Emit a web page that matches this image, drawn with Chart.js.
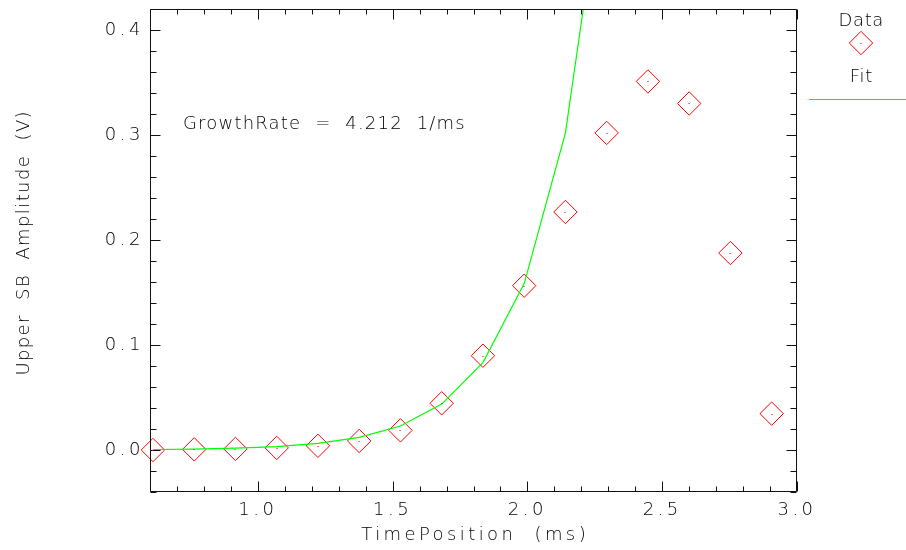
<!DOCTYPE html>
<html>
<head>
<meta charset="utf-8">
<script src="https://cdn.jsdelivr.net/npm/chart.js@4.4.1/dist/chart.umd.min.js"></script>
<style>
  html, body { margin: 0; padding: 0; background: #ffffff; }
  #c { display: block; }
</style>
</head>
<body>
<canvas id="c" width="906" height="550"></canvas>
<script>
// Measured upper-sideband amplitude versus time
const timeMs = [0.611, 0.764, 0.917, 1.070, 1.223, 1.376, 1.529, 1.682,
                1.835, 1.988, 2.141, 2.294, 2.447, 2.600, 2.753, 2.906];
const amplitudeV = [0.0000, 0.0006, 0.0010, 0.0020, 0.0040, 0.0086, 0.0187, 0.0445,
                    0.0898, 0.1565, 0.2267, 0.3020, 0.3510, 0.3300, 0.1876, 0.0346];

// Exponential fit evaluated at the sample times
const fitTimeMs = [0.611, 0.764, 0.917, 1.070, 1.223, 1.376, 1.529, 1.682,
                   1.835, 1.988, 2.141, 2.294];
const fitV = [0.0005, 0.0009, 0.0017, 0.0033, 0.0063, 0.0120, 0.0229, 0.0437,
              0.0832, 0.1585, 0.3020, 0.5750];

// Labelled axis ticks
const xTickValues = [1.0, 1.5, 2.0, 2.5, 3.0];
const yTickValues = [0.0, 0.1, 0.2, 0.3, 0.4];

const growthText = 'GrowthRate  =  4.212  1/ms';
const xTitle = 'TimePosition  (ms)';
const yTitle = 'Upper  SB  Amplitude  (V)';

const INK = '#000000';
const FRAME = '#111111';
const FONT = '"DejaVu Sans", sans-serif';
const WEIGHT = 200;

function toPoints(xs, ys) {
  return xs.map((x, i) => ({ x: x, y: ys[i] }));
}

function drawSpaced(ctx, text, x, y, spacing, align) {
  ctx.save();
  ctx.letterSpacing = spacing + 'px';
  ctx.font = WEIGHT + ' 18px ' + FONT;
  ctx.fillStyle = INK;
  ctx.textBaseline = 'middle';
  const w = ctx.measureText(text).width;
  let sx = x;
  if (align === 'center') sx = x - (w - spacing) / 2;
  ctx.textAlign = 'left';
  ctx.fillText(text, sx, y);
  ctx.restore();
}

// Frame with inward major/minor ticks on all four sides, titles, note and key
const framePlugin = {
  id: 'frame',
  beforeDraw(chart) {
    chart.ctx.letterSpacing = '3.5px';
  },
  afterDraw(chart) {
    const ctx = chart.ctx;
    const a = chart.chartArea;
    const xs = chart.scales.x, ys = chart.scales.y;
    ctx.save();
    ctx.letterSpacing = '0px';
    ctx.strokeStyle = FRAME;
    ctx.lineWidth = 1;
    const L = Math.round(a.left) + 0.5, R = Math.round(a.right) - 0.5;
    const T = Math.round(a.top) + 0.5, B = Math.round(a.bottom) - 0.5;
    ctx.beginPath();
    ctx.rect(L, T, R - L, B - T);
    ctx.stroke();

    ctx.beginPath();
    // x ticks every 0.1, labelled ones longer
    for (let k = Math.ceil(xs.min * 10 - 1e-6); k <= Math.floor(xs.max * 10 + 1e-6); k++) {
      const v = k / 10;
      const px = Math.round(xs.getPixelForValue(v)) + 0.5;
      const major = xTickValues.some(t => Math.abs(t - v) < 1e-6);
      const len = major ? 10 : 5;
      ctx.moveTo(px, B); ctx.lineTo(px, B - len);
      ctx.moveTo(px, T); ctx.lineTo(px, T + len);
    }
    // y ticks every 0.02
    for (let k = Math.ceil(ys.min * 50 - 1e-6); k <= Math.floor(ys.max * 50 + 1e-6); k++) {
      const v = k / 50;
      const py = Math.round(ys.getPixelForValue(v)) + 0.5;
      const major = yTickValues.some(t => Math.abs(t - v) < 1e-6);
      const len = major ? 10 : 6;
      ctx.moveTo(L, py); ctx.lineTo(L + len, py);
      ctx.moveTo(R, py); ctx.lineTo(R - len, py);
    }
    ctx.stroke();

    // centre marks of the data diamonds
    const meta = chart.getDatasetMeta(1);
    ctx.fillStyle = 'rgba(255,0,0,0.55)';
    meta.data.forEach(p => {
      ctx.fillRect(Math.round(p.x) - 1, Math.round(p.y), 2, 1);
    });

    // axis titles
    drawSpaced(ctx, xTitle, (a.left + a.right) / 2, 535, 3.4, 'center');
    ctx.save();
    ctx.translate(24, (a.top + a.bottom) / 2 - 7);
    ctx.rotate(-Math.PI / 2);
    drawSpaced(ctx, yTitle, 0, 0, 1.4, 'center');
    ctx.restore();

    // fit annotation
    drawSpaced(ctx, growthText, xs.getPixelForValue(0.722), ys.getPixelForValue(0.31), 1.2, 'left');

    // key
    const lx = 861;
    drawSpaced(ctx, 'Data', lx, 21, 0.6, 'center');
    ctx.save();
    ctx.strokeStyle = '#ff0000';
    ctx.fillStyle = 'rgba(0,0,0,0)';
    ctx.lineWidth = 1;
    Chart.helpers.drawPoint(ctx, { pointStyle: 'rectRot', radius: 11.7, rotation: 0, borderWidth: 1 }, lx, 43);
    ctx.restore();
    ctx.fillStyle = 'rgba(255,0,0,0.55)';
    ctx.fillRect(lx - 1, 43, 2, 1);
    drawSpaced(ctx, 'Fit', lx, 77, 0.8, 'center');
    ctx.save();
    ctx.strokeStyle = '#00ff00';
    ctx.lineWidth = 1;
    ctx.beginPath();
    ctx.moveTo(809, 99.5);
    ctx.lineTo(906, 99.5);
    ctx.stroke();
    ctx.restore();
    ctx.restore();
  }
};

new Chart(document.getElementById('c'), {
  type: 'scatter',
  data: {
    datasets: [
      {
        label: 'Fit',
        data: toPoints(fitTimeMs, fitV),
        showLine: true,
        borderColor: '#00ff00',
        borderWidth: 1.2,
        pointRadius: 0,
        pointHoverRadius: 0,
        tension: 0,
        fill: false,
        clip: 0
      },
      {
        label: 'Data',
        data: toPoints(timeMs, amplitudeV),
        showLine: false,
        clip: false,
        pointStyle: 'rectRot',
        pointRadius: 11.7,
        pointHoverRadius: 11.7,
        pointBorderColor: '#ff0000',
        pointHoverBorderColor: '#ff0000',
        pointBackgroundColor: 'rgba(0,0,0,0)',
        pointHoverBackgroundColor: 'rgba(0,0,0,0)',
        pointBorderWidth: 1,
        pointHoverBorderWidth: 1,
        borderColor: '#ff0000'
      }
    ]
  },
  options: {
    responsive: false,
    animation: false,
    events: [],
    devicePixelRatio: 1,
    layout: { autoPadding: false, padding: { left: 0, right: 109, top: 9, bottom: 0 } },
    plugins: {
      legend: { display: false },
      tooltip: { enabled: false }
    },
    scales: {
      x: {
        type: 'linear',
        min: 0.6,
        max: 3.0,
        afterBuildTicks: s => { s.ticks = xTickValues.map(v => ({ value: v })); },
        afterFit: s => { s.height = 58; s.paddingLeft = 0; s.paddingRight = 0; },
        grid: { display: false, drawTicks: false },
        border: { display: false },
        ticks: {
          autoSkip: false,
          maxRotation: 0,
          padding: 8,
          color: INK,
          font: { family: FONT, size: 18, weight: WEIGHT },
          callback: v => Number(v).toFixed(1)
        }
      },
      y: {
        type: 'linear',
        min: -0.04,
        max: 0.42,
        afterBuildTicks: s => { s.ticks = yTickValues.map(v => ({ value: v })); },
        afterFit: s => { s.width = 150; s.paddingTop = 0; s.paddingBottom = 0; },
        grid: { display: false, drawTicks: false },
        border: { display: false },
        ticks: {
          autoSkip: false,
          padding: 6,
          color: INK,
          font: { family: FONT, size: 18, weight: WEIGHT },
          callback: v => Number(v).toFixed(1)
        }
      }
    }
  },
  plugins: [framePlugin]
});
</script>
</body>
</html>
